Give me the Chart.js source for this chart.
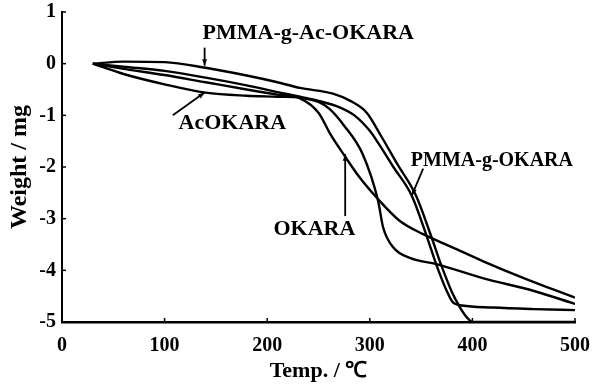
<!DOCTYPE html>
<html>
<head>
<meta charset="utf-8">
<script src="https://cdn.jsdelivr.net/npm/chart.js@4"></script>
<style>
  html, body { margin: 0; padding: 0; background: #fff; }
  #wrap { width: 595px; height: 389px; }
</style>
</head>
<body>
<div id="wrap"><canvas id="tgaChart" width="595" height="389"></canvas></div>
<script>
// TGA curves: temperature (°C) vs weight change (mg)
var okaraT = [30, 60, 100, 140, 180, 210, 232, 250, 262, 276, 290, 307, 329, 352, 380, 410, 450, 500];
var okaraW = [0, -0.1, -0.22, -0.36, -0.5, -0.6, -0.67, -0.95, -1.38, -1.8, -2.2, -2.6, -3.04, -3.3, -3.55, -3.82, -4.15, -4.53];

var acOkaraT = [30, 60, 100, 140, 180, 210, 232, 250, 261, 275, 293, 308, 313, 323, 339, 365, 410, 460, 500];
var acOkaraW = [0, -0.2, -0.4, -0.56, -0.62, -0.64, -0.66, -0.74, -0.88, -1.2, -1.75, -2.65, -3.17, -3.56, -3.76, -3.88, -4.15, -4.4, -4.65];

var pmmaT = [30, 60, 100, 140, 180, 210, 232, 250, 270, 285, 300, 307, 323, 341, 356, 365, 375, 381, 390, 420, 460, 500];
var pmmaW = [0, -0.06, -0.14, -0.27, -0.42, -0.55, -0.64, -0.72, -0.84, -1.0, -1.3, -1.5, -2.0, -2.56, -3.37, -3.9, -4.4, -4.62, -4.68, -4.72, -4.75, -4.77];

var pmmaAcT = [30, 60, 100, 140, 180, 210, 232, 264, 281, 297, 311, 327, 345, 360, 370, 380, 388, 395, 400, 450, 500];
var pmmaAcW = [0, 0.04, 0.03, -0.08, -0.23, -0.36, -0.47, -0.58, -0.72, -0.95, -1.4, -1.95, -2.55, -3.35, -3.92, -4.42, -4.72, -4.92, -5.0, -5.0, -5.0];

var xTicks = [0, 100, 200, 300, 400, 500];
var yTicks = [1, 0, -1, -2, -3, -4, -5];

// label text, label position, arrow start -> arrow end (data units)
var labels = [
  { text: 'PMMA-g-Ac-OKARA', size: 22, x: 240, y: 0.58, from: [139, 0.31], to: [139, -0.04] },
  { text: 'AcOKARA', size: 22, x: 166, y: -1.16, from: [108, -1.0], to: [139, -0.56] },
  { text: 'OKARA', size: 22, x: 246, y: -3.2, from: [276, -2.95], to: [276, -1.75] },
  { text: 'PMMA-g-OKARA', size: 20, x: 419, y: -1.88, from: [352, -2.03], to: [341, -2.55] }
];

function toXY(ts, ws) {
  return ts.map(function (t, i) { return { x: t, y: ws[i] }; });
}

function lineSet(name, ts, ws) {
  return {
    label: name,
    data: toXY(ts, ws),
    borderColor: '#000',
    borderWidth: 2.4,
    pointRadius: 0,
    fill: false,
    cubicInterpolationMode: 'monotone'
  };
}

var FONT = '"Liberation Serif", "Times New Roman", serif';

// inward tick marks + annotation labels with arrows
var extras = {
  id: 'extras',
  afterDraw: function (chart) {
    var c = chart.ctx, xs = chart.scales.x, ys = chart.scales.y, a = chart.chartArea;
    c.save();
    c.strokeStyle = '#000';
    c.lineWidth = 1.5;
    xTicks.forEach(function (v) {
      var px = xs.getPixelForValue(v);
      c.beginPath(); c.moveTo(px, a.bottom); c.lineTo(px, a.bottom - 4); c.stroke();
    });
    yTicks.forEach(function (v) {
      var py = ys.getPixelForValue(v);
      c.beginPath(); c.moveTo(a.left, py); c.lineTo(a.left + 4, py); c.stroke();
    });
    c.fillStyle = '#000';
    c.textAlign = 'center';
    c.textBaseline = 'middle';
    labels.forEach(function (l) {
      c.font = 'bold ' + l.size + 'px ' + FONT;
      c.fillText(l.text, xs.getPixelForValue(l.x), ys.getPixelForValue(l.y));
      var x1 = xs.getPixelForValue(l.from[0]), y1 = ys.getPixelForValue(l.from[1]);
      var x2 = xs.getPixelForValue(l.to[0]), y2 = ys.getPixelForValue(l.to[1]);
      c.lineWidth = 1.8;
      c.beginPath(); c.moveTo(x1, y1); c.lineTo(x2, y2); c.stroke();
      var ang = Math.atan2(y2 - y1, x2 - x1);
      c.beginPath();
      c.moveTo(x2, y2);
      c.lineTo(x2 - 7 * Math.cos(ang - 0.35), y2 - 7 * Math.sin(ang - 0.35));
      c.lineTo(x2 - 7 * Math.cos(ang + 0.35), y2 - 7 * Math.sin(ang + 0.35));
      c.closePath();
      c.fill();
    });
    c.restore();
  }
};

var ctx = document.getElementById('tgaChart').getContext('2d');
var tgaChart = new Chart(ctx, {
  type: 'line',
  data: {
    datasets: [
      lineSet('OKARA', okaraT, okaraW),
      lineSet('AcOKARA', acOkaraT, acOkaraW),
      lineSet('PMMA-g-OKARA', pmmaT, pmmaW),
      lineSet('PMMA-g-Ac-OKARA', pmmaAcT, pmmaAcW)
    ]
  },
  options: {
    responsive: false,
    animation: false,
    layout: { padding: { top: 12, right: 20, left: 0, bottom: 4 } },
    plugins: { legend: { display: false }, tooltip: { enabled: false } },
    scales: {
      x: {
        type: 'linear',
        min: 0, max: 500,
        afterBuildTicks: function (s) { s.ticks = xTicks.map(function (v) { return { value: v }; }); },
        afterFit: function (s) { s.height = 63; s.paddingLeft = 0; s.paddingRight = 0; },
        grid: { display: false, drawTicks: false },
        border: { display: true, color: '#000', width: 2.5 },
        ticks: { color: '#000', padding: 12, maxRotation: 0, font: { family: FONT, size: 20, weight: 'bold' } },
        title: { display: true, text: 'Temp. / ℃', color: '#000', padding: 0, font: { family: FONT, size: 22, weight: 'bold' } }
      },
      y: {
        min: -5, max: 1,
        afterBuildTicks: function (s) { s.ticks = yTicks.map(function (v) { return { value: v }; }); },
        afterFit: function (s) { s.width = 62; s.paddingTop = 0; s.paddingBottom = 0; },
        grid: { display: false, drawTicks: false },
        border: { display: true, color: '#000', width: 2 },
        ticks: { color: '#000', padding: 6, font: { family: FONT, size: 20, weight: 'bold' } },
        title: { display: true, text: 'Weight / mg', color: '#000', padding: { top: 5 }, font: { family: FONT, size: 24, weight: 'bold' } }
      }
    }
  },
  plugins: [extras]
});
</script>
</body>
</html>
